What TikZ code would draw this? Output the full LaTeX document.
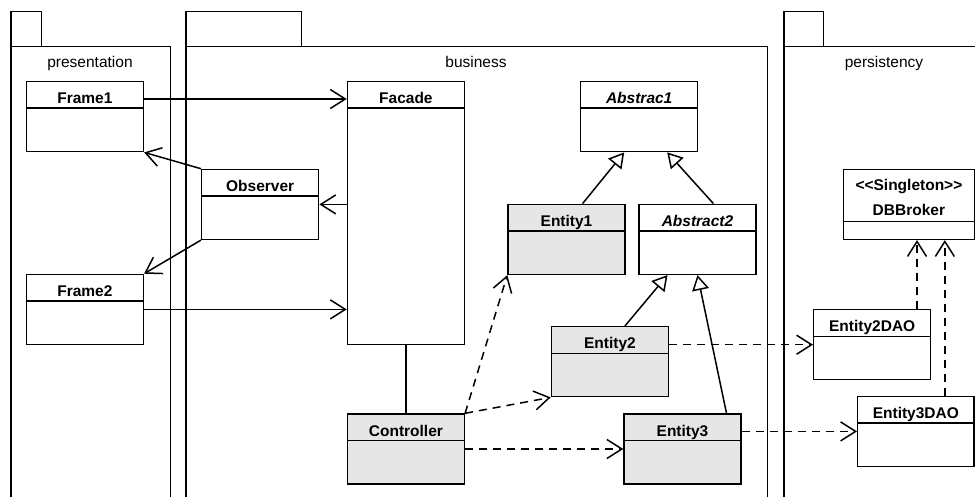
\documentclass[tikz,border=0pt]{standalone}
\usepackage{fontspec}
\setmainfont{Liberation Sans}
\usepackage{xcolor}
\usepackage{tikz}
\usetikzlibrary{arrows.meta}

\definecolor{xamnhat}{HTML}{E6E6E6}
\newcommand{\cochu}{\fontsize{15.5}{18}\selectfont}

\tikzset{
  % hộp lớp UML: #1 = chiều cao phần tên
  lop/.style={draw, line width=1.4pt, anchor=north west, inner sep=0pt,
    minimum width=117pt, minimum height=70pt,
    text height=22pt, text depth=48pt, font=\cochu\bfseries,
    path picture={\draw[line width=1.4pt]
      ([yshift=-#1]path picture bounding box.north west) --
      ([yshift=-#1]path picture bounding box.north east);}},
  lop/.default=26.5pt,
  goi/.style={line width=1.3pt},
  kethop/.style={line width=1.5pt, -{Straight Barb[length=15pt, width=19pt]}},
  tongquat/.style={line width=1.5pt, -{Triangle[open, length=15pt, width=17pt]}},
  phuthuoc/.style={kethop, dash pattern=on 8pt off 6pt},
}

\begin{document}
\begin{tikzpicture}[x=1pt, y=-1pt, font=\cochu] % 1 đơn vị = 1 điểm ảnh

    \useasboundingbox (0,0) rectangle (975,497);

    % 1. Vẽ ba gói (package): tab nhỏ + thân mở ở đáy
    \draw[goi] (11,11.7) rectangle (41.7,46.7);
    \draw[goi] (11,500) |- (170.7,46.7) -- (170.7,500);
    \draw[goi] (186,11.7) rectangle (301.7,46.7);
    \draw[goi] (186,500) |- (767.7,46.7) -- (767.7,500);
    \draw[goi] (784,11.7) rectangle (823.3,46.7);
    \draw[goi] (784,500) |- (980,46.7);

    % 2. Tên các gói
    \node[anchor=base] (tenpres) at (90,68) {presentation};
    \node[anchor=base] (tenbus) at (476,68) {business};
    \node[anchor=base] (tenpers) at (884,68) {persistency};

    % 3. Các lớp của gói presentation
    \node[lop] (frame1) at (25.7,81) {Frame1};
    \node[lop] (frame2) at (25.7,273.7) {Frame2};

    % 4. Các lớp của gói business
    \node[lop] (observer) at (201,168.7) {Observer};
    \node[lop, minimum height=263pt, text depth=241pt] (facade) at (346.7,81) {Facade};
    \node[lop] (abstrac1) at (580,81) {\itshape Abstrac1};
    \node[lop, fill=xamnhat] (entity1) at (507.3,203.7) {Entity1};
    \node[lop] (abstract2) at (638.3,203.7) {\itshape Abstract2};
    \node[lop, fill=xamnhat] (entity2) at (550.7,326) {Entity2};
    \node[lop, fill=xamnhat] (controller) at (346.7,413.3) {Controller};
    \node[lop, fill=xamnhat] (entity3) at (623.3,413.3) {Entity3};

    % 5. Các lớp của gói persistency
    \node[lop=52.3pt, minimum width=131pt, align=center,
      text height=46.3pt, text depth=23.3pt] (dbbroker) at (842.7,168.7)
      {<\kern0pt<Singleton>\kern0pt>\\[7pt]DBBroker};
    \node[lop] (e2dao) at (813,309) {Entity2DAO};
    \node[lop, minimum width=116.3pt] (e3dao) at (857,395.7) {Entity3DAO};

    % 6. Kết hợp (association)
    \draw[kethop] ([yshift=-18pt]frame1.north east) -- ([yshift=-18pt]facade.north west);
    \draw[kethop] (frame2.east) -- (facade.west |- frame2.east);
    \draw[kethop] (facade.west |- observer.east) -- (observer.east);
    \draw[kethop] (observer.north west) -- (frame1.south east);
    \draw[kethop] (observer.south west) -- (frame2.north east);
    \draw[line width=1.5pt] (facade.south) -- (controller.north);

    % 7. Tổng quát hoá (kế thừa)
    \draw[tongquat] ([xshift=16pt]entity1.north) -- ([xshift=-15pt]abstrac1.south);
    \draw[tongquat] ([xshift=16pt]abstract2.north) -- ([xshift=28pt]abstrac1.south);
    \draw[tongquat] ([xshift=15pt]entity2.north) -- ([xshift=-30pt]abstract2.south);
    \draw[tongquat] ([xshift=44pt]entity3.north) -- (abstract2.south);

    % 8. Phụ thuộc (nét đứt)
    \draw[phuthuoc] (controller.north east) -- (entity1.south west);
    \draw[phuthuoc] (controller.north east) -- (entity2.south west);
    \draw[phuthuoc] (controller.east) -- (entity3.west);
    \draw[phuthuoc] (entity2.east |- e2dao.west) -- (e2dao.west);
    \draw[phuthuoc] (entity3.east |- e3dao.west) -- (e3dao.west);
    \coordinate (e2top) at ([xshift=-14.4pt]e2dao.north east);
    \coordinate (e3top) at ([xshift=29pt]e3dao.north);
    \draw[phuthuoc] (e2top) -- (e2top |- dbbroker.south);
    \draw[phuthuoc] (e3top) -- (e3top |- dbbroker.south);

\end{tikzpicture}
\end{document}
